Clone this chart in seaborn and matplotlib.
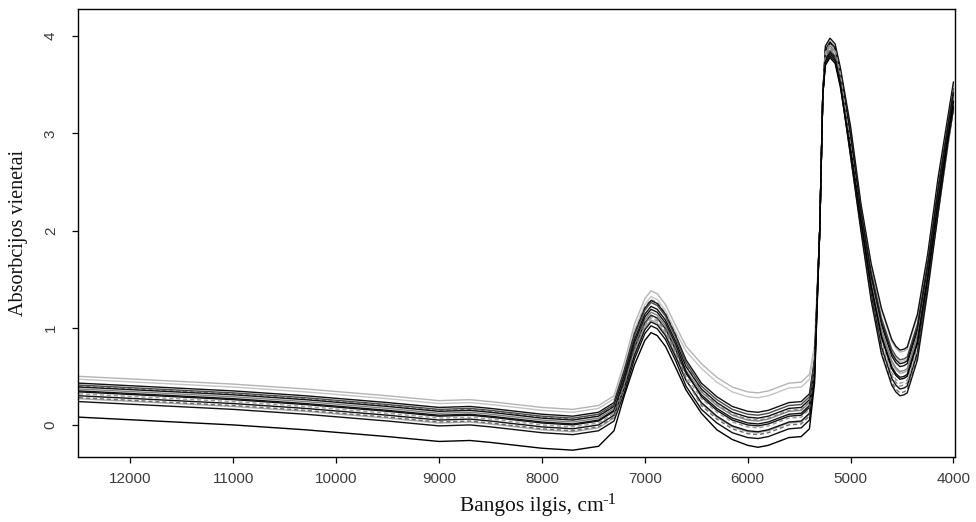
import numpy as np
import pandas as pd
import seaborn as sns
import matplotlib.pyplot as plt

wavenumber = [12500, 11000, 10300, 9500, 9000, 8700, 8500, 8000, 7700, 7450,
              7300, 7200, 7100, 7000, 6940, 6880, 6800, 6700, 6600, 6450,
              6300, 6150, 6000, 5900, 5800, 5700, 5600, 5480, 5400, 5350,
              5300, 5270, 5245, 5200, 5150, 5100, 5000, 4900, 4800, 4700,
              4600, 4560, 4520, 4480, 4450, 4350, 4250, 4150, 4050, 4000]

s01 = [0.50, 0.42, 0.37, 0.30, 0.25, 0.26, 0.24, 0.18, 0.16, 0.20,
       0.30, 0.64, 1.04, 1.30, 1.38, 1.35, 1.24, 1.02, 0.81, 0.63,
       0.49, 0.39, 0.34, 0.33, 0.35, 0.39, 0.43, 0.44, 0.52, 0.82,
       2.00, 3.40, 3.87, 3.95, 3.89, 3.65, 3.05, 2.27, 1.64, 1.18,
       0.86, 0.79, 0.75, 0.76, 0.78, 1.12, 1.74, 2.51, 3.17, 3.50]
s02 = [0.47, 0.39, 0.34, 0.27, 0.22, 0.23, 0.21, 0.15, 0.13, 0.17,
       0.27, 0.59, 0.98, 1.24, 1.32, 1.29, 1.18, 0.96, 0.76, 0.58,
       0.44, 0.34, 0.29, 0.28, 0.30, 0.34, 0.38, 0.39, 0.47, 0.79,
       2.00, 3.40, 3.79, 3.87, 3.81, 3.57, 2.96, 2.21, 1.56, 1.08,
       0.76, 0.69, 0.65, 0.66, 0.68, 1.02, 1.66, 2.43, 3.10, 3.43]
s03 = [0.43, 0.35, 0.30, 0.23, 0.18, 0.19, 0.17, 0.11, 0.09, 0.13,
       0.23, 0.56, 0.94, 1.20, 1.28, 1.25, 1.14, 0.92, 0.67, 0.43,
       0.29, 0.19, 0.14, 0.13, 0.15, 0.19, 0.23, 0.24, 0.32, 0.68,
       2.00, 3.40, 3.90, 3.98, 3.92, 3.68, 3.07, 2.28, 1.66, 1.20,
       0.88, 0.81, 0.77, 0.78, 0.80, 1.14, 1.76, 2.54, 3.20, 3.53]
s04 = [0.41, 0.33, 0.28, 0.21, 0.16, 0.17, 0.15, 0.09, 0.07, 0.11,
       0.21, 0.54, 0.92, 1.18, 1.26, 1.23, 1.12, 0.90, 0.64, 0.40,
       0.26, 0.16, 0.11, 0.10, 0.12, 0.16, 0.20, 0.21, 0.29, 0.66,
       2.00, 3.40, 3.77, 3.85, 3.79, 3.55, 2.96, 2.22, 1.58, 1.10,
       0.78, 0.71, 0.67, 0.68, 0.70, 1.04, 1.68, 2.45, 3.13, 3.46]
s05 = [0.39, 0.31, 0.26, 0.19, 0.14, 0.15, 0.13, 0.07, 0.05, 0.09,
       0.19, 0.51, 0.88, 1.14, 1.22, 1.19, 1.08, 0.86, 0.60, 0.37,
       0.23, 0.13, 0.08, 0.07, 0.09, 0.13, 0.17, 0.18, 0.26, 0.64,
       2.00, 3.40, 3.85, 3.93, 3.87, 3.63, 2.96, 2.18, 1.52, 1.03,
       0.71, 0.64, 0.60, 0.61, 0.63, 0.97, 1.62, 2.39, 3.07, 3.40]
s06 = [0.37, 0.29, 0.24, 0.17, 0.12, 0.13, 0.11, 0.05, 0.03, 0.07,
       0.17, 0.46, 0.82, 1.08, 1.16, 1.13, 1.02, 0.80, 0.56, 0.34,
       0.20, 0.10, 0.05, 0.04, 0.06, 0.10, 0.14, 0.15, 0.23, 0.62,
       2.00, 3.40, 3.82, 3.90, 3.84, 3.60, 2.92, 2.15, 1.48, 0.98,
       0.66, 0.59, 0.55, 0.56, 0.58, 0.92, 1.58, 2.35, 3.05, 3.38]
s07 = [0.34, 0.26, 0.21, 0.14, 0.09, 0.10, 0.08, 0.02, 0.00, 0.04,
       0.14, 0.44, 0.79, 1.05, 1.13, 1.10, 0.99, 0.77, 0.53, 0.31,
       0.17, 0.07, 0.02, 0.01, 0.03, 0.07, 0.11, 0.12, 0.20, 0.60,
       2.00, 3.40, 3.76, 3.84, 3.78, 3.54, 2.86, 2.11, 1.43, 0.92,
       0.60, 0.53, 0.49, 0.50, 0.52, 0.86, 1.53, 2.30, 3.00, 3.33]
s08 = [0.32, 0.24, 0.19, 0.12, 0.07, 0.08, 0.06, 0.00, -0.02, 0.02,
       0.12, 0.41, 0.76, 1.02, 1.10, 1.07, 0.96, 0.74, 0.50, 0.27,
       0.13, 0.03, -0.02, -0.03, -0.01, 0.03, 0.07, 0.08, 0.16, 0.57,
       2.00, 3.40, 3.84, 3.92, 3.86, 3.62, 2.87, 2.08, 1.38, 0.86,
       0.54, 0.47, 0.43, 0.44, 0.46, 0.80, 1.48, 2.25, 2.97, 3.30]
s09 = [0.30, 0.22, 0.17, 0.10, 0.05, 0.06, 0.04, -0.02, -0.04, 0.00,
       0.10, 0.38, 0.72, 0.98, 1.06, 1.03, 0.92, 0.70, 0.46, 0.23,
       0.09, -0.01, -0.06, -0.07, -0.05, -0.01, 0.03, 0.04, 0.12, 0.54,
       2.00, 3.40, 3.72, 3.80, 3.74, 3.50, 2.78, 2.04, 1.34, 0.80,
       0.48, 0.41, 0.37, 0.38, 0.40, 0.74, 1.44, 2.21, 2.95, 3.28]
s10 = [0.28, 0.20, 0.15, 0.08, 0.03, 0.04, 0.02, -0.04, -0.06, -0.02,
       0.08, 0.40, 0.78, 1.04, 1.12, 1.09, 0.98, 0.76, 0.47, 0.20,
       0.06, -0.04, -0.09, -0.10, -0.08, -0.04, 0.00, 0.01, 0.09, 0.52,
       2.00, 3.40, 3.78, 3.86, 3.80, 3.56, 2.79, 2.02, 1.30, 0.76,
       0.44, 0.37, 0.33, 0.34, 0.36, 0.70, 1.40, 2.17, 2.90, 3.23]
s11 = [0.24, 0.16, 0.11, 0.04, -0.01, 0.00, -0.02, -0.08, -0.10, -0.06,
       0.04, 0.33, 0.68, 0.94, 1.02, 0.99, 0.88, 0.66, 0.40, 0.16,
       0.02, -0.08, -0.13, -0.14, -0.12, -0.08, -0.04, -0.03, 0.05, 0.49,
       2.00, 3.40, 3.74, 3.82, 3.76, 3.52, 2.76, 2.00, 1.28, 0.73,
       0.41, 0.34, 0.30, 0.31, 0.33, 0.67, 1.38, 2.17, 2.93, 3.26]
s12 = [0.08, 0.00, -0.05, -0.12, -0.17, -0.16, -0.18, -0.24, -0.26, -0.22,
       -0.06, 0.30, 0.62, 0.87, 0.95, 0.92, 0.81, 0.59, 0.36, 0.12,
       -0.05, -0.15, -0.21, -0.23, -0.21, -0.17, -0.13, -0.12, -0.04, 0.43,
       2.00, 3.40, 3.70, 3.78, 3.72, 3.48, 2.82, 2.10, 1.42, 0.90,
       0.58, 0.51, 0.47, 0.48, 0.50, 0.84, 1.52, 2.29, 3.00, 3.33]
s13 = [0.40, 0.32, 0.27, 0.20, 0.15, 0.16, 0.14, 0.08, 0.06, 0.10,
       0.20, 0.55, 0.95, 1.21, 1.29, 1.26, 1.15, 0.93, 0.63, 0.35,
       0.21, 0.11, 0.06, 0.05, 0.07, 0.11, 0.15, 0.16, 0.24, 0.63,
       2.00, 3.40, 3.80, 3.88, 3.82, 3.58, 2.84, 2.06, 1.36, 0.83,
       0.51, 0.44, 0.40, 0.41, 0.43, 0.77, 1.46, 2.22, 2.93, 3.26]
s14 = [0.35, 0.27, 0.22, 0.15, 0.10, 0.11, 0.09, 0.03, 0.01, 0.05,
       0.15, 0.47, 0.85, 1.11, 1.19, 1.16, 1.05, 0.83, 0.55, 0.29,
       0.15, 0.05, 0.00, -0.01, 0.01, 0.05, 0.09, 0.10, 0.18, 0.59,
       2.00, 3.40, 3.86, 3.94, 3.88, 3.64, 2.98, 2.20, 1.54, 1.06,
       0.74, 0.67, 0.63, 0.64, 0.66, 1.00, 1.64, 2.41, 3.09, 3.42]
s15 = [0.27, 0.19, 0.14, 0.07, 0.02, 0.03, 0.01, -0.05, -0.07, -0.03,
       0.07, 0.38, 0.74, 1.00, 1.08, 1.05, 0.94, 0.72, 0.46, 0.22,
       0.08, -0.02, -0.07, -0.08, -0.06, -0.02, 0.02, 0.03, 0.11, 0.54,
       2.00, 3.40, 3.75, 3.83, 3.77, 3.53, 2.88, 2.14, 1.46, 0.96,
       0.64, 0.57, 0.53, 0.54, 0.56, 0.90, 1.56, 2.33, 3.02, 3.35]

samples = ["s01", "s02", "s15", "s13", "s03", "s04", "s05", "s06",
           "s14", "s07", "s08", "s09", "s10", "s11", "s12"]
spectra = [s01, s02, s15, s13, s03, s04, s05, s06,
           s14, s07, s08, s09, s10, s11, s12]
line_colors = ["#b4b4b4", "#c4c4c4", "#a6a6a6", "#8c8c8c", "#111111", "#4a4a4a",
               "#111111", "#808080", "#111111", "#111111", "#9a9a9a", "#111111",
               "#6e6e6e", "#111111", "#000000"]
dashed = [False, False, False, True, False, False, False, False,
          False, False, True, False, True, False, False]

rows = []
for name, vals in zip(samples, spectra):
    rows.append(pd.DataFrame({"wn": wavenumber, "absorb": vals, "sample": name}))
df = pd.concat(rows, ignore_index=True)

sns.set_style("white")
plt.rcParams["font.family"] = ["Liberation Sans", "DejaVu Sans"]

fig = plt.figure(figsize=(9.76, 5.22), dpi=100)
ax = fig.add_axes([78 / 976, 65 / 522, 877 / 976, 448 / 522])

palette = dict(zip(samples, line_colors))
dash_map = {s: ((3, 2) if d else "") for s, d in zip(samples, dashed)}
sns.lineplot(data=df, x="wn", y="absorb", hue="sample", style="sample",
             hue_order=samples, style_order=samples,
             palette=palette, dashes=dash_map, linewidth=1.0,
             estimator=None, sort=False, legend=False, ax=ax)

ax.set_xlim(12510, 3985)
ax.set_ylim(-0.33, 4.28)
ax.set_xticks([12000, 11000, 10000, 9000, 8000, 7000, 6000, 5000, 4000])
ax.set_yticks([0, 1, 2, 3, 4])

for sp in ax.spines.values():
    sp.set_color("black")
    sp.set_linewidth(1.0)
    sp.set_visible(True)

ax.tick_params(axis="both", which="major", direction="out", length=4.5, width=0.9,
               color="black", labelsize=11, labelcolor="#3c3c3c",
               bottom=True, left=True, top=False, right=False)
ax.tick_params(axis="x", pad=6)
ax.tick_params(axis="y", pad=10)
for lab in ax.get_yticklabels():
    lab.set_rotation(90)
    lab.set_va("center")

ax.set_xlabel("Bangos ilgis, cm", family="Liberation Serif",
              fontsize=15.5, color="#111111")
ax.set_ylabel("Absorbcijos vienetai", family="Liberation Serif",
              fontsize=14.5, color="#111111")
ax.xaxis.set_label_coords(0.517, -0.090)
ax.yaxis.set_label_coords(-0.057, 0.5)
# superscript of the unit, raised like in the original
fig.text(602 / 976, (522 - 504) / 522, "-1", family="Liberation Serif",
         fontsize=12, color="#111111", ha="left", va="baseline")

fig.savefig("out.png", dpi=100)
